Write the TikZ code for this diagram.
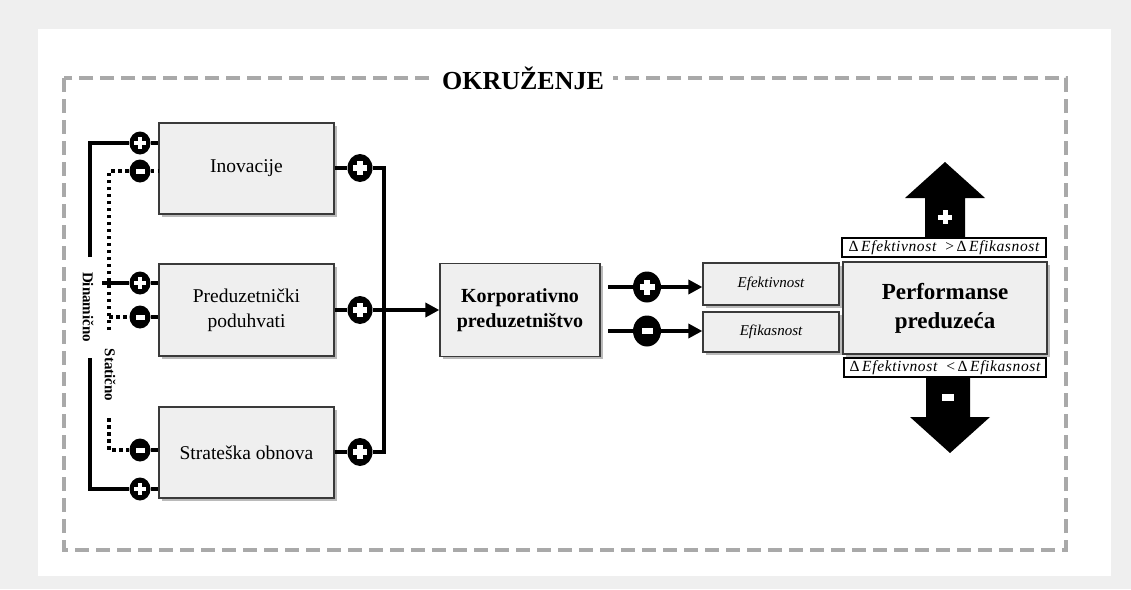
\documentclass[tikz,border=0pt]{standalone}
\usepackage{fontspec}
\setmainfont{Liberation Serif}
\newfontfamily\condfont[LetterSpace=4]{Liberation Serif}
\usetikzlibrary{shapes.geometric,arrows.meta,shadows,calc}

\definecolor{pagegray}{HTML}{EFEFEF}
\definecolor{boxfill}{HTML}{EFEFEF}
\definecolor{boxline}{HTML}{3A3A3A}
\definecolor{dashgray}{HTML}{A9A9A9}

\tikzset{
  block/.style={draw=boxline, line width=1.3pt, fill=boxfill, align=center,
    inner sep=2pt, text=black,
    drop shadow={shadow xshift=2.5pt, shadow yshift=-2.5pt, opacity=0.45, fill=black!60}},
  condbox/.style={draw=black, line width=1.2pt, fill=white, inner sep=0pt,
    font=\condfont\fontsize{15.5}{16}\selectfont\itshape},
  envtitle/.style={fill=white, inner xsep=9pt, inner ysep=2pt,
    font=\fontsize{26}{28}\selectfont\bfseries},
  sidetext/.style={rotate=-90, inner sep=1pt, font=\fontsize{15}{16}\selectfont\bfseries},
  conn/.style={line width=4pt},
  dots/.style={line width=3.5pt, dash pattern=on 3.5pt off 3.5pt},
  tip/.style={-{Triangle[length=14pt,width=14pt]}},
  signbase/.style={ellipse, fill=black, draw=none, inner sep=0pt},
  possign/.style n args={4}{signbase, minimum width=#1pt, minimum height=#2pt,
    path picture={
      \fill[white] ([shift={(-#3/2,-#4/2)}]path picture bounding box.center) rectangle ++(#3,#4);
      \fill[white] ([shift={(-#4/2,-#3/2)}]path picture bounding box.center) rectangle ++(#4,#3);}},
  negsign/.style n args={4}{signbase, minimum width=#1pt, minimum height=#2pt,
    path picture={
      \fill[white] ([shift={(-#3/2,-#4/2)}]path picture bounding box.center) rectangle ++(#3,#4);}},
}

\begin{document}
\begin{tikzpicture}[x=1pt,y=-1pt]
\useasboundingbox (0,0) rectangle (1131,589);
\fill[pagegray] (0,0) rectangle (1131,589);
\fill[white] (38,29) rectangle (1111,576);

% environment frame
\draw[dashgray, line width=4pt, dash pattern=on 14pt off 7pt] (64,78) rectangle (1066,550);
\node[envtitle] (env) at (523,78) {OKRUŽENJE};

% the three forms
\node[block, minimum width=175pt, minimum height=91pt, font=\fontsize{19.5}{25}\selectfont]
  (inov) at (246.5,168.5) {Inovacije};
\node[block, minimum width=175pt, minimum height=92pt, font=\fontsize{19.5}{25}\selectfont]
  (pred) at (246.5,310) {Preduzetnički\\poduhvati};
\node[block, minimum width=175pt, minimum height=91pt, font=\fontsize{19.5}{25}\selectfont]
  (strat) at (246.5,452.5) {Strateška obnova};

% corporate entrepreneurship
\node[block, minimum width=160pt, minimum height=93pt, font=\fontsize{20}{25}\selectfont\bfseries]
  (korp) at (520,310) {Korporativno\\preduzetništvo};

% outcomes
\node[block, minimum width=136pt, minimum height=42pt, font=\fontsize{15}{17}\selectfont\itshape]
  (efek) at (771,284) {Efektivnost};
\node[block, minimum width=136pt, minimum height=40pt, font=\fontsize{15}{17}\selectfont\itshape]
  (efik) at (771,332) {Efikasnost};
\node[block, minimum width=204pt, minimum height=92pt, font=\fontsize{23}{29}\selectfont\bfseries]
  (perf) at (945,308) {Performanse\\preduzeća};

% conditions
\node[condbox, minimum width=204pt, minimum height=19pt] (gt) at (944,247.5)
  {{\upshape Δ}\,Efektivnost\ \ {\upshape>}\,{\upshape Δ}\,Efikasnost};
\node[condbox, minimum width=202pt, minimum height=19pt] (lt) at (945,367.5)
  {{\upshape Δ}\,Efektivnost\ \ {\upshape<}\,{\upshape Δ}\,Efikasnost};

% big up arrow with plus
\fill[black] (925,238) -- (925,198) -- (905,198) -- (945,162) -- (985,198) -- (965,198) -- (965,238) -- cycle;
\fill[white] (942.5,210) rectangle (947.5,224);
\fill[white] (938,214.5) rectangle (952,219.5);
% big down arrow with minus
\fill[black] (926,377) -- (970,377) -- (970,417) -- (990,417) -- (950,453) -- (910,417) -- (926,417) -- cycle;
\fill[white] (942,394) rectangle (954,401);

% sign markers on the left
\node[possign={21}{23}{12}{4.5}] (p1) at (140,143) {};
\node[negsign={21}{23}{9}{5}]    (m1) at (140,171) {};
\node[possign={21}{23}{12}{4.5}] (p2) at (140,283) {};
\node[negsign={21}{23}{9}{5}]    (m2) at (140,317) {};
\node[negsign={21}{23}{9}{5}]    (m3) at (140,450) {};
\node[possign={21}{23}{12}{4.5}] (p3) at (140,489) {};

% sign markers on the right
\node[possign={25}{28}{14}{5.5}] (q1) at (360,168) {};
\node[possign={25}{28}{14}{5.5}] (q2) at (360,310) {};
\node[possign={25}{28}{14}{5.5}] (q3) at (360,452) {};

\node[possign={28}{31}{15}{6}] (r1) at (647,287) {};
\node[negsign={28}{31}{11}{6}] (r2) at (647,331) {};

% dynamic / static labels
\node[sidetext] (dyn) at (88,307) {Dinamično};
\node[sidetext] (stat) at (110,375) {Statično};

% anchor points of the left rails
\coordinate (dynA) at (90,257);
\coordinate (dynC) at (90,358);
\coordinate (predA) at (102,283);
\coordinate (stA) at (109,330);
\coordinate (stC) at (109,418);
\coordinate (busx) at (384,310);
\coordinate (ko1) at (608,287);
\coordinate (ko2) at (608,331);

% dynamic (solid) links
\draw[conn] (dynA) |- (p1);
\draw[conn] (p1) -- (inov.west |- p1);
\draw[conn] (predA) -- (p2);
\draw[conn] (p2) -- (pred.west |- p2);
\draw[conn] (dynC) |- (p3);
\draw[conn] (p3) -- (strat.west |- p3);

% static (dotted) links
\draw[dots] (stA) |- (m1);
\draw[dots] (m1) -- (inov.west |- m1);
\draw[dots] (m2 -| stA) -- (m2);
\draw[conn] (m2) -- (pred.west |- m2);
\draw[dots] (stC) |- (m3);
\draw[conn] (m3) -- (strat.west |- m3);

% collector bus into corporate entrepreneurship
\draw[conn] (inov.east |- q1) -- (q1);
\draw[conn] (pred.east |- q2) -- (q2);
\draw[conn] (strat.east |- q3) -- (q3);
\draw[conn] (q1) -- (q1 -| busx) -- (q3 -| busx) -- (q3);
\draw[conn, tip] (q2) -- (korp.west);

% effectiveness / efficiency
\draw[conn] (ko1) -- (r1);
\draw[conn, tip] (r1) -- (efek.west |- r1);
\draw[conn] (ko2) -- (r2);
\draw[conn, tip] (r2) -- (efik.west |- r2);
\end{tikzpicture}
\end{document}
